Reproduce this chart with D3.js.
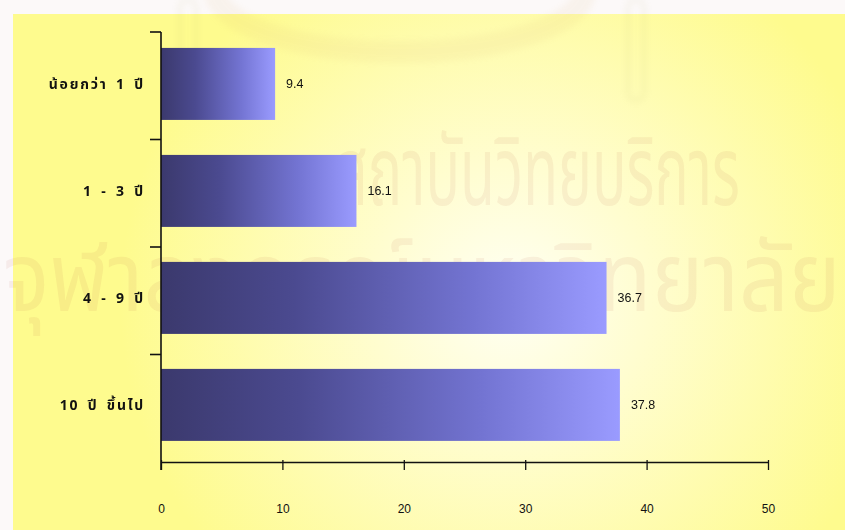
<!DOCTYPE html>
<html>
<head>
<meta charset="utf-8">
<script src="https://cdn.jsdelivr.net/npm/d3@7"></script>
<style>
  html, body { margin: 0; padding: 0; background: #fdfbfb; }
  svg { display: block; }
</style>
</head>
<body>
<svg id="chart" width="845" height="530"></svg>
<script>
// Years of work experience (percent of respondents)
const categories = ["น้อยกว่า 1 ปี", "1 - 3 ปี", "4 - 9 ปี", "10 ปี ขึ้นไป"];
const values = [9.4, 16.1, 36.7, 37.8];
const tickValues = [0, 10, 20, 30, 40, 50];
const watermarkLines = ["สถาบันวิทยบริการ", "จุฬาลงกรณ์มหาวิทยาลัย"];

const svg = d3.select("#chart");
const W = 845, H = 530;
const margin = { top: 32, right: 77, bottom: 68, left: 161 };
const innerW = W - margin.left - margin.right;
const innerH = H - margin.top - margin.bottom;

const defs = svg.append("defs");

// yellow panel with a pale glow in the middle
const bgGrad = defs.append("radialGradient")
  .attr("id", "bgGlow")
  .attr("gradientUnits", "userSpaceOnUse")
  .attr("cx", 510).attr("cy", 300).attr("r", 390);
bgGrad.append("stop").attr("offset", "0").attr("stop-color", "#fffff4");
bgGrad.append("stop").attr("offset", "0.35").attr("stop-color", "#fffdd0");
bgGrad.append("stop").attr("offset", "1").attr("stop-color", "#fefb8e");

// horizontal shading on each bar: dark navy to periwinkle
const barGrad = defs.append("linearGradient")
  .attr("id", "barShade")
  .attr("x1", "0").attr("x2", "1").attr("y1", "0").attr("y2", "0");
barGrad.append("stop").attr("offset", "0").attr("stop-color", "#3b396d");
barGrad.append("stop").attr("offset", "0.3").attr("stop-color", "#4b4a90");
barGrad.append("stop").attr("offset", "0.7").attr("stop-color", "#7374d2");
barGrad.append("stop").attr("offset", "1").attr("stop-color", "#9a9bff");

const softBlur = defs.append("filter").attr("id", "soft")
  .attr("x", "-20%").attr("y", "-20%").attr("width", "140%").attr("height", "140%");
softBlur.append("feGaussianBlur").attr("stdDeviation", 3);

svg.append("rect").attr("width", W).attr("height", H).attr("fill", "#fcf9f9");
svg.append("rect")
  .attr("x", 13).attr("y", 14)
  .attr("width", W - 13).attr("height", H - 14)
  .attr("fill", "url(#bgGlow)");

// faint emblem at the top of the page
const emblem = svg.append("g").attr("opacity", 0.09).attr("filter", "url(#soft)");
emblem.append("ellipse")
  .attr("cx", 400).attr("cy", -10).attr("rx", 185).attr("ry", 62)
  .attr("fill", "none").attr("stroke", "#d8b070").attr("stroke-width", 22);
emblem.append("rect").attr("x", 180).attr("y", 0).attr("width", 16).attr("height", 100)
  .attr("rx", 7).attr("fill", "none").attr("stroke", "#b8b070").attr("stroke-width", 5);
emblem.append("rect").attr("x", 628).attr("y", 0).attr("width", 16).attr("height", 100)
  .attr("rx", 7).attr("fill", "none").attr("stroke", "#b8b070").attr("stroke-width", 5);

// faint library stamp behind the chart, squeezed horizontally to a condensed look
const wm = svg.append("g").attr("opacity", 0.08)
  .style("font-family", "'Noto Sans Thai', 'Noto Looped Thai', 'Loma', 'Garuda', 'DejaVu Sans', sans-serif");
const stampSpec = [
  { text: watermarkLines[0], left: 335, base: 205, width: 405 },
  { text: watermarkLines[1], left: 3, base: 311, width: 838 }
];
stampSpec.forEach(s => {
  const holder = wm.append("g");
  const t = holder.append("text")
    .attr("x", 0).attr("y", 0)
    .attr("font-size", 96).attr("fill", "#b05040")
    .text(s.text);
  const natural = t.node().getComputedTextLength();
  holder.attr("transform", `translate(${s.left},${s.base}) scale(${s.width / natural},1)`);
});

const g = svg.append("g").attr("transform", `translate(${margin.left},${margin.top})`);

const x = d3.scaleLinear().domain([0, 50]).range([0, innerW]);
const y = d3.scaleBand().domain(categories).range([0, innerH])
  .paddingInner(0.327).paddingOuter(0.173).align(0.43);
const bandStep = innerH / categories.length;

// bars
g.selectAll("rect.bar")
  .data(values)
  .join("rect")
  .attr("class", "bar")
  .attr("x", 0)
  .attr("y", (d, i) => y(categories[i]))
  .attr("width", d => x(d))
  .attr("height", y.bandwidth())
  .attr("fill", "url(#barShade)");

// value labels
g.selectAll("text.val")
  .data(values)
  .join("text")
  .attr("class", "val")
  .attr("x", d => x(d) + 11)
  .attr("y", (d, i) => y(categories[i]) + y.bandwidth() / 2)
  .attr("dy", "0.35em")
  .attr("font-family", "Arial, 'Liberation Sans', sans-serif")
  .attr("font-size", 12.5)
  .attr("fill", "#111")
  .text(d => d.toFixed(1));

// x axis
const xAxis = g.append("g")
  .attr("transform", `translate(0,${innerH})`)
  .call(d3.axisBottom(x).tickValues(tickValues).tickSize(8).tickSizeOuter(0).tickPadding(34));
xAxis.select(".domain").attr("stroke", "#111").attr("stroke-width", 1.3);
xAxis.selectAll(".tick line").attr("stroke", "#111").attr("stroke-width", 1.3).attr("y1", -2);
xAxis.selectAll(".tick text")
  .attr("font-family", "Arial, 'Liberation Sans', sans-serif")
  .attr("font-size", 12).attr("fill", "#111");

// y axis: line with ticks between categories, labels centred on each bar
const yAxis = g.append("g");
yAxis.append("line")
  .attr("x1", 0).attr("x2", 0).attr("y1", 0).attr("y2", innerH + 8)
  .attr("stroke", "#111").attr("stroke-width", 1.6);
yAxis.selectAll("line.tk")
  .data(d3.range(categories.length))
  .join("line")
  .attr("class", "tk")
  .attr("x1", -11).attr("x2", 0)
  .attr("y1", i => i * bandStep).attr("y2", i => i * bandStep)
  .attr("stroke", "#111").attr("stroke-width", 1.6);
yAxis.selectAll("text.cat")
  .data(categories)
  .join("text")
  .attr("class", "cat")
  .attr("x", -16)
  .attr("y", d => y(d) + y.bandwidth() / 2)
  .attr("dy", "0.35em")
  .attr("text-anchor", "end")
  .attr("font-family", "'Noto Sans Thai', 'Loma', 'Garuda', 'DejaVu Sans', sans-serif")
  .attr("font-size", 14)
  .attr("font-weight", "bold")
  .attr("letter-spacing", 1.8)
  .attr("word-spacing", 3)
  .attr("fill", "#111")
  .text(d => d);
</script>
</body>
</html>
